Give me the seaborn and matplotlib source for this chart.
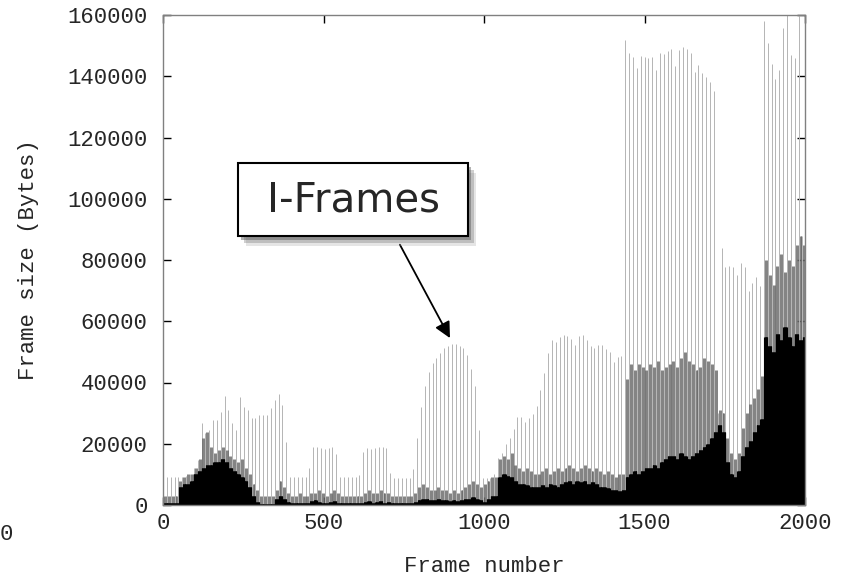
import pandas as pd
import matplotlib
matplotlib.use("Agg")
import matplotlib.pyplot as plt
import matplotlib.patheffects as pe
from matplotlib.patches import Rectangle
import seaborn as sns

sns.set_theme(style="ticks")
plt.rcParams["font.family"] = ["Liberation Mono", "DejaVu Sans Mono"]

# GOP structure of the stream, 12 frames per GOP
GOP_PATTERN = "IBBPBBPBBPBB"
N_FRAMES = 2000

# per-GOP frame sizes, in kB (1000 bytes)
I_KB = [
    9, 9, 9, 9, 9, 9, 9.5, 10, 12, 14.7,
    26.9, 23.5, 24.5, 27.7, 27.7, 30.5, 35.6, 31, 26.7, 24.5,
    35.4, 32, 31, 28.4, 28.4, 29.4, 29.4, 29.4, 31.7, 34.3,
    36.2, 32.6, 20.7, 9, 9, 9, 9, 9, 12, 19,
    19, 18.6, 18.3, 18.6, 19, 16.7, 9, 9, 9, 9,
    9, 9.9, 17.4, 18.6, 18.3, 18.6, 19.1, 19.1, 18.6, 10.6,
    8.8, 8.8, 8.8, 8.8, 8.8, 11.7, 21.8, 32, 38.8, 43.5,
    46.3, 48, 49.6, 51.2, 52, 52.6, 52.6, 52, 51.2, 49,
    44.4, 38.8, 24.5, 8.8, 8.8, 8.8, 10, 15.5, 17, 20,
    21.8, 24.8, 28.8, 28.8, 27.2, 28.5, 29.7, 32.3, 37.5, 43,
    49.5, 53.9, 53.3, 55, 55.5, 55.2, 54.1, 52.2, 55.2, 55.5,
    53.9, 51.9, 51.2, 52.2, 52.2, 50.9, 50, 46.8, 48.4, 48.5,
    152, 147.5, 146.4, 142.7, 146.6, 146.4, 145.8, 146.4, 142, 147.7,
    147.4, 148.2, 148.8, 143.3, 148.5, 149.7, 148.8, 147.7, 141.5, 143.7,
    141.2, 139.6, 138.2, 135.3, 30, 84, 77.7, 78, 77.7, 75,
    79, 77.7, 70, 72.5, 74.5, 71.6, 158, 151, 144, 139,
    142, 155.7, 160, 147, 146, 160, 88,
]

P_KB = [
    3, 3, 3, 3, 8, 9, 10, 10, 12, 15,
    22, 24, 19, 17, 18, 19, 18, 16, 15, 14,
    15, 12, 10, 7, 5, 3, 3, 3, 3, 5,
    8, 6, 4, 3, 3, 4, 3, 3, 4, 4,
    5, 4, 3, 4, 5, 4, 3, 3, 3, 3,
    3, 3, 4, 5, 4, 4, 5, 4, 4, 3,
    3, 3, 3, 3, 3, 4, 6, 7, 6, 5,
    5, 6, 5, 5, 4, 5, 4, 5, 6, 7,
    8, 7, 6, 7, 8, 9, 9, 15, 16, 15,
    17, 13, 12, 11, 12, 11, 10, 10, 11, 12,
    10, 11, 12, 11, 12, 13, 12, 11, 12, 13,
    12, 11, 12, 11, 10, 11, 10, 9, 10, 10,
    41, 46, 44, 46, 45, 44, 46, 45, 47, 44,
    45, 46, 47, 45, 48, 50, 47, 46, 44, 45,
    48, 47, 46, 44, 31, 30, 22, 17, 15, 17,
    25, 30, 33, 35, 38, 42, 80, 75, 72, 78,
    82, 76, 80, 78, 85, 88, 85,
]

B_KB = [
    0.5, 0.5, 0.5, 0.5, 6, 7, 7, 8, 10, 11,
    12, 13, 13, 14, 14, 15, 14, 12, 11, 10,
    9, 8, 6, 3, 1, 0.4, 0.4, 0.4, 0.4, 2,
    3, 2, 1, 0.5, 0.5, 0.5, 0.5, 0.5, 1.2, 1.5,
    1, 0.5, 0.5, 1, 1.2, 0.5, 0.5, 0.5, 0.5, 0.5,
    0.5, 0.5, 1, 1.2, 0.5, 1, 1.2, 0.5, 1, 0.5,
    0.5, 0.5, 0.5, 0.5, 0.5, 1, 1.5, 2, 2, 1.5,
    1.5, 2, 1.5, 1.5, 1.2, 1.5, 1.2, 1.5, 2, 2,
    2.5, 2, 1.5, 1, 2, 3, 3, 9, 10, 9.5,
    9, 8, 7, 7, 6.5, 6, 6, 6, 6.5, 6,
    7, 6.5, 6, 7, 7.5, 8, 7, 8, 7.5, 8,
    7, 7.5, 7, 6, 6, 5.5, 5, 5, 4.5, 5,
    9, 10, 11, 10, 11, 12, 12, 13, 12, 14,
    15, 16, 16, 15, 17, 16, 15, 16, 17, 18,
    19, 20, 22, 24, 26, 24, 14, 10, 9, 11,
    16, 19, 21, 24, 26, 28, 55, 52, 50, 56,
    54, 58, 55, 52, 56, 54, 55,
]

X_TICKS = [0, 500, 1000, 1500, 2000]
Y_TICKS = [0, 20000, 40000, 60000, 80000, 100000, 120000, 140000, 160000]


def build_frames():
    sizes = {"I": I_KB, "P": P_KB, "B": B_KB}
    rows = []
    for f in range(N_FRAMES):
        g = f // len(GOP_PATTERN)
        kind = GOP_PATTERN[f % len(GOP_PATTERN)]
        rows.append((f, kind, sizes[kind][g] * 1000))
    return pd.DataFrame(rows, columns=["frame", "kind", "size"])


df = build_frames()

fig = plt.figure(figsize=(8.47, 5.76), dpi=100)
ax = fig.add_axes([163 / 847, 1 - 505 / 576, 642 / 847, 490 / 576])

styles = [("I", "#b4b4b4", 0.7), ("P", "#6c6c6c", 0.6), ("B", "black", 0.8)]
for kind, color, lw in styles:
    sub = df[df["kind"] == kind]
    ax.vlines(sub["frame"], 0, sub["size"], colors=color, linewidth=lw)

ax.set_xlim(0, 2000)
ax.set_ylim(0, 160000)
ax.set_xticks(X_TICKS)
ax.set_yticks(Y_TICKS)
ax.set_xticklabels([str(v) for v in X_TICKS])
ax.set_yticklabels([str(v) for v in Y_TICKS])
ax.tick_params(which="both", direction="in", top=True, right=True,
               length=6, width=1, color="black", labelsize=16)
ax.tick_params(axis="x", pad=6)
ax.tick_params(axis="y", pad=11)
for sp in ax.spines.values():
    sp.set_color("#808080")
    sp.set_linewidth(1)

ax.set_xlabel("Frame number", fontsize=16)
ax.set_ylabel("Frame size (Bytes)", fontsize=16)
ax.xaxis.set_label_coords(0.5, -0.104)
ax.yaxis.set_label_coords(-0.193, 0.5)

# stray label fragment at the lower-left edge
fig.text(0, 1 - 535 / 576, "0", fontsize=16, va="center", ha="left")

# annotation box with soft drop shadow
box = Rectangle((238 / 847, 1 - 236 / 576), 230 / 847, 73 / 576,
                transform=fig.transFigure, facecolor="white",
                edgecolor="black", linewidth=1.5, zorder=5)
box.set_path_effects([
    pe.SimplePatchShadow(offset=(6, -7), shadow_rgbFace="#999999", alpha=0.25),
    pe.SimplePatchShadow(offset=(4, -5), shadow_rgbFace="#777777", alpha=0.35),
    pe.SimplePatchShadow(offset=(2, -3), shadow_rgbFace="#555555", alpha=0.45),
    pe.Normal(),
])
fig.patches.append(box)
fig.text(353 / 847, 1 - 200 / 576, "I-Frames", fontsize=29,
         family=["DejaVu Sans"], ha="center", va="center", zorder=6)

ax.annotate("", xy=(894, 54500), xytext=(738, 85000),
            arrowprops=dict(arrowstyle="-|>", color="black", lw=1.3,
                            mutation_scale=24, shrinkA=0, shrinkB=0))

fig.savefig("out.png", dpi=100)
